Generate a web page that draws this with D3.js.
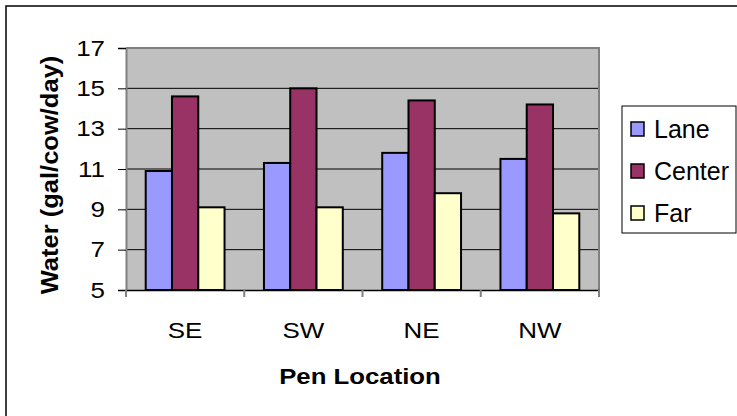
<!DOCTYPE html>
<html>
<head>
<meta charset="utf-8">
<script src="https://cdn.jsdelivr.net/npm/d3@7"></script>
<style>
  html, body { margin: 0; padding: 0; background: #ffffff; }
  svg { display: block; font-family: "Liberation Sans", Arial, sans-serif; }
</style>
</head>
<body>
<svg id="chart" width="737" height="416"></svg>
<script>
// Water use per pen location and position within the pen
const locations = ["SE", "SW", "NE", "NW"];
const seriesNames = ["Lane", "Center", "Far"];
const lane   = [10.9, 11.3, 11.8, 11.5];
const center = [14.6, 15.0, 14.4, 14.2];
const far    = [9.1, 9.1, 9.8, 8.8];
const yTicks = [5, 7, 9, 11, 13, 15, 17];
const seriesColors = ["#9999FF", "#993366", "#FFFFCC"];

const seriesValues = [lane, center, far];
const rows = locations.map((loc, i) => ({
  loc,
  vals: seriesNames.map((s, j) => ({ key: s, value: seriesValues[j][i] }))
}));

const svg = d3.select("#chart");
const plot = { left: 126, top: 48, right: 599, bottom: 290 };
const textStretch = 1.18;

// Widen text horizontally along its own direction
function stretch(sel, s) {
  sel.each(function () {
    const t = d3.select(this);
    const x = +t.attr("x") || 0, y = +t.attr("y") || 0;
    t.attr("x", null).attr("y", null)
     .attr("transform", `translate(${x},${y}) scale(${s},1)`);
  });
}

// Outer chart frame
svg.append("rect")
  .attr("x", 6).attr("y", 6).attr("width", 900).attr("height", 600)
  .attr("fill", "none").attr("stroke", "#000").attr("stroke-width", 1.5);

const x0 = d3.scaleBand().domain(locations).range([plot.left, plot.right]).padding(0);
const x1 = d3.scaleBand().domain(seriesNames).range([0, x0.bandwidth()])
  .paddingInner(0).paddingOuter(0.75);
const y = d3.scaleLinear().domain([5, 17]).range([plot.bottom, plot.top]);

// Plot area background
svg.append("rect")
  .attr("x", plot.left).attr("y", plot.top)
  .attr("width", plot.right - plot.left).attr("height", plot.bottom - plot.top)
  .attr("fill", "#C0C0C0");

// Horizontal gridlines
svg.append("g")
  .selectAll("line")
  .data(yTicks.filter(t => t > 5 && t < 17))
  .join("line")
  .attr("x1", plot.left).attr("x2", plot.right)
  .attr("y1", d => y(d)).attr("y2", d => y(d))
  .attr("stroke", "#000").attr("stroke-width", 1);

// Plot area border (top and right)
svg.append("path")
  .attr("d", `M${plot.left},${y(17)}H${plot.right}V${plot.bottom}`)
  .attr("fill", "none").attr("stroke", "#808080").attr("stroke-width", 2);

// Bars
const groups = svg.append("g")
  .selectAll("g")
  .data(rows)
  .join("g")
  .attr("transform", d => `translate(${x0(d.loc)},0)`);

groups.selectAll("rect")
  .data(d => d.vals)
  .join("rect")
  .attr("x", d => x1(d.key))
  .attr("y", d => y(d.value))
  .attr("width", x1.bandwidth())
  .attr("height", d => y(5) - y(d.value))
  .attr("fill", (d, i) => seriesColors[i])
  .attr("stroke", "#000").attr("stroke-width", 2);

// Y axis
const yAxis = svg.append("g")
  .attr("transform", `translate(${plot.left},0)`)
  .call(d3.axisLeft(y).tickValues(yTicks).tickSize(8).tickPadding(13).tickFormat(d3.format("d")));
yAxis.select(".domain").attr("stroke", "#808080").attr("stroke-width", 2);
yAxis.selectAll(".tick line").attr("stroke", "#000");
yAxis.selectAll(".tick text")
  .attr("font-size", 22).attr("fill", "#000")
  .attr("font-family", "'Liberation Sans', Arial, sans-serif")
  .call(stretch, textStretch);

// X axis
const xAxis = svg.append("g")
  .attr("transform", `translate(0,${plot.bottom})`)
  .call(d3.axisBottom(x0).tickSize(0).tickPadding(32));
xAxis.select(".domain").attr("stroke", "#000").attr("stroke-width", 1.5);
xAxis.selectAll(".tick text")
  .attr("font-size", 22).attr("fill", "#000")
  .attr("font-family", "'Liberation Sans', Arial, sans-serif")
  .call(stretch, textStretch);

// Category separators below the axis
const bounds = locations.map(l => x0(l)).concat([plot.right]);
svg.append("g")
  .selectAll("line")
  .data(bounds)
  .join("line")
  .attr("x1", d => d).attr("x2", d => d)
  .attr("y1", plot.bottom).attr("y2", plot.bottom + 7)
  .attr("stroke", "#808080").attr("stroke-width", 2);

// Axis titles
svg.append("text")
  .attr("transform", `translate(360,384) scale(1.12,1)`)
  .attr("text-anchor", "middle")
  .attr("font-size", 23).attr("font-weight", "bold")
  .text("Pen Location");

svg.append("text")
  .attr("transform", `translate(58,175) rotate(-90) scale(1.11,1)`)
  .attr("text-anchor", "middle")
  .attr("font-size", 23).attr("font-weight", "bold")
  .text("Water (gal/cow/day)");

// Legend
const legend = svg.append("g");
legend.append("rect")
  .attr("x", 622).attr("y", 106).attr("width", 114).attr("height", 127)
  .attr("fill", "#fff").attr("stroke", "#000").attr("stroke-width", 1);

const items = legend.selectAll("g.item")
  .data(seriesNames)
  .join("g")
  .attr("class", "item")
  .attr("transform", (d, i) => `translate(631,${129 + i * 42})`);
items.append("rect")
  .attr("x", 0).attr("y", -7).attr("width", 13).attr("height", 14)
  .attr("fill", (d, i) => seriesColors[i])
  .attr("stroke", "#000").attr("stroke-width", 1.5);
items.append("text")
  .attr("x", 23).attr("y", 9)
  .attr("font-size", 25).attr("fill", "#000")
  .text(d => d);
</script>
</body>
</html>
